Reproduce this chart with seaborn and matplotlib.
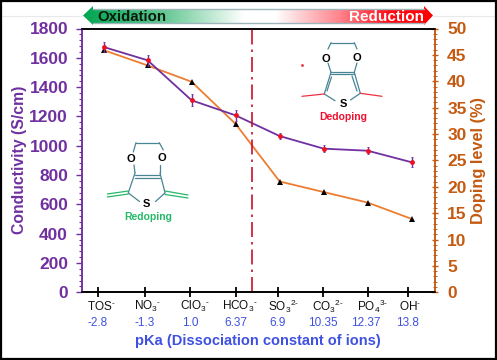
import matplotlib as mpl
mpl.use("Agg")
import matplotlib.pyplot as plt
import seaborn as sns
import pandas as pd
import numpy as np
from matplotlib.colors import LinearSegmentedColormap
from matplotlib.patches import Polygon, Rectangle
from matplotlib.ticker import MultipleLocator

# Data
IONS = [r'TOS$^{\text{-}}$', r'NO$_{3}$$^{\text{-}}$', r'ClO$_{3}$$^{\text{-}}$', r'HCO$_{3}$$^{\text{-}}$',
        r'SO$_{3}$$^{2\text{-}}$', r'CO$_{3}$$^{2\text{-}}$', r'PO$_{4}$$^{3\text{-}}$', r'OH$^{\text{-}}$']
PKA = ['-2.8', '-1.3', '1.0', '6.37', '6.9', '10.35', '12.37', '13.8']
ION_POS = [0, 1, 2, 3, 4, 5, 6, 7]
CONDUCTIVITY = [1674, 1583, 1310, 1207, 1066, 980, 966, 887]
COND_ERR = [36, 38, 42, 38, 20, 25, 25, 34]
DOPING = [45.9, 43.0, 39.9, 31.9, 21.0, 19.0, 17.0, 13.9]
TICK_POS = [-0.12, 0.94, 1.96, 3.0, 3.95, 4.98, 6.0, 6.91]
ION_LABEL_POS = [-0.04, 1.0, 2.07, 3.1, 4.09, 5.09, 6.11, 6.95]
PKA_LABEL_POS = [-0.13, 0.94, 1.96, 3.0, 3.94, 4.97, 5.96, 6.91]
SPLIT = 3.36

PURPLE = '#7030a0'
ORANGE = '#c55a11'
LINE_ORANGE = '#ed7d31'
BLUE = '#3f51e0'
TEAL = '#4a8596'
GREEN = '#12b060'
W, H = 497, 360

sns.set_theme(style="white")
plt.rcParams['font.family'] = ['Liberation Sans', 'DejaVu Sans']
plt.rcParams['mathtext.fontset'] = 'custom'
plt.rcParams['mathtext.rm'] = 'Liberation Sans'
plt.rcParams['mathtext.default'] = 'rm'

data = pd.DataFrame({'ion': ION_POS, 'cond': CONDUCTIVITY, 'doping': DOPING})

fig = plt.figure(figsize=(W / 100, H / 100), dpi=100, facecolor='white')
ax = fig.add_axes([82 / W, 1 - 292.3 / H, (434.7 - 82) / W, (292.3 - 28.5) / H])
ax2 = ax.twinx()
ax.set_zorder(ax2.get_zorder() + 1)
ax.patch.set_visible(False)

# Doping level
sns.lineplot(data=data, x='ion', y='doping', ax=ax2, color=LINE_ORANGE, lw=1.3,
             marker='^', markersize=4.2, markerfacecolor='black',
             markeredgecolor='black', markeredgewidth=0)
# Conductivity
ax.errorbar(ION_POS, CONDUCTIVITY, yerr=COND_ERR, fmt='none', ecolor=PURPLE,
            elinewidth=1, capsize=1, capthick=0.6)
sns.lineplot(data=data, x='ion', y='cond', ax=ax, color=PURPLE, lw=1.3,
             marker='o', markersize=3.5, markerfacecolor='#f01020',
             markeredgecolor='#f01020', markeredgewidth=0)
ax.axvline(SPLIT, color='#c8102e', lw=1.2, dashes=(9, 3, 1.5, 3))

ax.set_xlim(-0.49, 7.52)
ax.set_ylim(0, 1800)
ax2.set_ylim(0, 50)

ax.set_xticks(TICK_POS)
ax.set_xticklabels([])
ax.set_xlabel('')
ax.tick_params(axis='x', length=7.5, width=1.3, color='black', direction='inout', bottom=True)
ax.set_ylabel('')
ax2.set_ylabel('')

ax.yaxis.set_major_locator(MultipleLocator(200))
ax.yaxis.set_minor_locator(MultipleLocator(40))
ax.tick_params(axis='y', which='major', length=4, width=1, color=PURPLE, left=True,
               labelcolor=PURPLE, labelsize=12.5, pad=6)
ax.tick_params(axis='y', which='minor', length=2.5, width=0.8, color=PURPLE, left=True)
for lab in ax.get_yticklabels():
    lab.set_fontweight('bold')

ax2.yaxis.set_major_locator(MultipleLocator(5))
ax2.yaxis.set_minor_locator(MultipleLocator(1))
ax2.tick_params(axis='y', which='major', length=5, width=1, color=ORANGE, right=True,
                direction='inout', labelcolor=ORANGE, labelsize=12.5, pad=6.5)
ax2.tick_params(axis='y', which='minor', length=2.5, width=0.7, color=ORANGE, right=True,
                direction='inout')
for lab in ax2.get_yticklabels():
    lab.set_fontweight('bold')

for a in (ax, ax2):
    a.grid(False)
    a.spines['top'].set_color('black')
    a.spines['top'].set_linewidth(1.1)
    a.spines['bottom'].set_color('black')
    a.spines['bottom'].set_linewidth(1.2)
    a.spines['left'].set_color(PURPLE)
    a.spines['left'].set_linewidth(1.1)
    a.spines['right'].set_color(ORANGE)
    a.spines['right'].set_linewidth(1.1)

# Ion names and pKa below the axis
trans = ax.get_xaxis_transform()
for x, name in zip(ION_LABEL_POS, IONS):
    ax.annotate(name, (x, 0), xycoords=trans, xytext=(0, -14.5), textcoords='offset pixels',
                ha='center', va='center', fontsize=8.5, color='#111111')
for x, val in zip(PKA_LABEL_POS, PKA):
    ax.annotate(val, (x, 0), xycoords=trans, xytext=(0, -31), textcoords='offset pixels',
                ha='center', va='center', fontsize=8.5, color=BLUE)

# Overlay in picture pixels for the arrow, molecules and frame
ov = fig.add_axes([0, 0, 1, 1], zorder=10)
ov.patch.set_visible(False)
ov.axis('off')

arrow = [(83, 15.5), (93, 6), (93, 9), (424, 9), (424, 6), (433, 15.5),
         (424, 25), (424, 23), (93, 23), (93, 25)]
cmap = LinearSegmentedColormap.from_list('ox', [(0, '#00a651'), (0.22, '#5cc58d'), (0.46, '#ffffff'),
                                                (0.55, '#ffffff'), (0.74, '#ff8088'), (0.88, '#ff0a14'),
                                                (1, '#ff0000')])
grad = ov.imshow(np.linspace(0, 1, 256).reshape(1, -1), cmap=cmap, aspect='auto', extent=(83, 433, 25, 6))
clip = Polygon(arrow, closed=True, transform=ov.transData, fc='none', ec='none')
ov.add_patch(clip)
grad.set_clip_path(clip)
ov.plot([93, 424], [9, 9], color='#9db5bb', lw=1)
ov.plot([93, 424], [23, 23], color='#9db5bb', lw=1)
ov.plot([2, 83], [16, 16], color='#e8e8e8', lw=0.8, zorder=0)
ov.plot([433, 495], [16, 16], color='#e8e8e8', lw=0.8, zorder=0)
ov.text(97, 21, 'Oxidation', fontsize=10.8, fontweight='bold', color='#0a1a10', ha='left', va='baseline')
ov.text(349, 20.7, 'Reduction', fontsize=11, fontweight='bold', color='white', ha='left', va='baseline')


def bonds(segments, color, lw=0.9):
    for (x0, y0, x1, y1) in segments:
        ov.plot([x0, x1], [y0, y1], color=color, lw=lw, solid_capstyle='round')


# Dedoping molecule
bonds([(328, 49, 331, 42.7), (331, 42.7, 354.3, 42.7), (354.3, 42.7, 357, 49),
       (328, 63, 331, 72.3), (357, 63, 354.3, 72.3), (331, 72.3, 354.3, 72.3),
       (331, 74, 354.3, 74), (331, 72.3, 324.3, 94), (354.3, 72.3, 360.3, 93.3),
       (331.5, 77, 327, 91), (352, 76, 357, 91),
       (324.3, 94, 335, 100.7), (360.3, 93.3, 350.5, 100)], TEAL)
bonds([(302, 96.3, 324.3, 94), (360.3, 93.3, 382, 96.3)], '#f03040')
ov.plot([302.3], [64.7], marker='o', ms=1, color='#f03040')
for x, y, s in [(326, 58.7, 'O'), (357.3, 58.3, 'O'), (343, 103.7, 'S')]:
    ov.text(x, y, s, fontsize=8, fontweight='bold', color='black', ha='center', va='center')
ov.text(343.5, 117.3, 'Dedoping', fontsize=7.5, fontweight='bold', color='#f01030', ha='center', va='center')

# Redoping molecule
bonds([(133.3, 152, 136, 142.7), (136, 142.7, 159.3, 142.7), (159.3, 142.7, 163.3, 150),
       (134, 165, 135, 173), (160, 165, 160, 173), (135, 174.5, 160, 174.5),
       (135, 177.5, 160, 177.5), (135, 173, 128.3, 192.7), (160, 173, 165, 192.7),
       (128.3, 193, 139.5, 201.5), (165, 193, 155.5, 201.5)], TEAL)
bonds([(107.3, 194, 128.3, 191), (107.3, 197, 128.3, 194), (165, 191, 188, 195), (165, 194.5, 188, 198)], '#25b868')
for x, y, s in [(131, 159.3, 'O'), (162.3, 158.3, 'O'), (146.7, 204, 'S')]:
    ov.text(x, y, s, fontsize=8, fontweight='bold', color='black', ha='center', va='center')
ov.text(148.7, 217.3, 'Redoping', fontsize=7.5, fontweight='bold', color='#25b868', ha='center', va='center')

# Axis titles
ov.text(20, 160, 'Conductivity (S/cm)', rotation=90, fontsize=11.3, fontweight='bold', color=PURPLE,
        ha='center', va='center')
ov.text(479, 160, 'Doping level (%)', rotation=90, fontsize=11.8, fontweight='bold', color=ORANGE,
        ha='center', va='center')
ov.text(258, 341, 'pKa (Dissociation constant of ions)', fontsize=10.5, fontweight='bold', color=BLUE,
        ha='center', va='center')

# Black frame round the picture
ov.add_patch(Rectangle((1, 1), W - 2, H - 2, fc='none', ec='black', lw=1.6))

ov.set_xlim(0, W)
ov.set_ylim(H, 0)
fig.savefig('out.png', dpi=100)
